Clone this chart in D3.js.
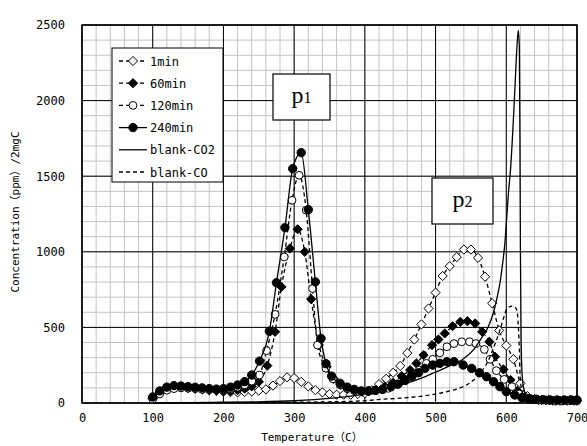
<!DOCTYPE html>
<html>
<head>
<meta charset="utf-8">
<script src="https://cdn.jsdelivr.net/npm/d3@7"></script>
<style>
body { margin: 0; background: #fff; }
text { font-family: 'DejaVu Sans Mono', 'Noto Sans CJK JP', monospace; }
</style>
</head>
<body>
<div id="chart"></div>
<script>

// ---- data ----
var xTicks = [0, 100, 200, 300, 400, 500, 600, 700];
var yTicks = [0, 500, 1000, 1500, 2000, 2500];

var min1 = [[100,30],[110,70],[120,95],[130,105],[140,105],[150,100],[160,95],[170,90],[180,85],[190,80],[200,75],[210,72],[220,70],[230,72],[240,76],[250,82],[260,90],[270,115],[280,145],[290,170],[300,165],[310,140],[320,110],[330,85],[340,70],[350,60],[360,55],[370,55],[380,55],[390,60],[400,65],[410,85],[420,125],[430,160],[440,200],[450,245],[460,330],[470,420],[480,520],[490,625],[500,730],[510,840],[520,905],[530,965],[540,1015],[550,1015],[560,960],[570,835],[580,660],[590,480],[600,380],[610,290],[620,130],[630,45],[640,25],[650,20],[660,20],[670,15],[680,15],[690,20],[700,15]];

var min60 = [[100,30],[110,65],[120,90],[130,105],[140,105],[150,100],[160,95],[170,90],[180,85],[190,82],[200,80],[210,80],[220,85],[230,95],[240,110],[250,140],[262,247],[273,471],[282,768],[294,1022],[305,1149],[315,1000],[324,687],[335,383],[346,240],[356,160],[366,120],[376,95],[386,80],[396,75],[406,78],[416,85],[428,108],[440,134],[452,178],[464,218],[473,262],[483,317],[495,383],[504,420],[513,460],[524,508],[535,537],[545,541],[556,526],[566,471],[576,405],[584,306],[596,222],[606,152],[616,80],[626,40],[636,25],[646,20],[656,18],[666,15],[676,15],[686,15],[696,15]];

var min120 = [[100,25],[110,60],[120,85],[130,95],[140,100],[150,98],[160,95],[170,90],[180,88],[190,88],[200,90],[210,95],[220,105],[230,120],[240,145],[251,185],[261,346],[273,586],[286,966],[297,1341],[307,1506],[317,1275],[326,757],[333,383],[345,230],[355,160],[365,120],[375,95],[385,82],[395,78],[405,78],[415,82],[425,90],[433,97],[445,123],[457,147],[467,174],[477,218],[487,262],[496,289],[506,332],[516,372],[526,393],[537,405],[548,405],[557,393],[569,354],[577,289],[586,214],[597,156],[608,108],[618,60],[628,35],[640,25],[650,20],[660,18],[670,15],[680,15],[690,15],[700,15]];

var min240 = [[100,40],[110,80],[120,105],[130,115],[140,112],[150,108],[160,104],[170,100],[180,95],[190,92],[200,95],[210,105],[220,119],[230,141],[240,185],[251,277],[265,475],[275,795],[287,1160],[298,1550],[310,1656],[320,1279],[330,801],[338,427],[345,260],[353,178],[365,130],[375,105],[385,90],[395,80],[405,80],[415,84],[425,90],[437,108],[447,125],[457,152],[466,178],[476,200],[485,229],[496,251],[506,262],[516,273],[526,273],[539,251],[551,229],[562,200],[572,174],[582,141],[591,108],[600,75],[612,53],[622,35],[632,28],[642,25],[652,22],[662,20],[672,20],[682,20],[692,20],[700,20]];

var blankCO2 = [[100,0],[150,2],[200,5],[250,8],[300,15],[350,30],[400,60],[420,85],[450,120],[480,165],[500,205],[520,245],[540,295],[555,360],[565,430],[575,510],[582,600],[588,720],[591,792],[595,930],[598,1057],[601,1250],[603,1385],[606,1545],[609,1780],[612,2060],[615,2350],[617,2465],[618.5,2350],[619.5,1545],[620,1000],[621,400],[623,150],[627,60],[632,30],[640,15],[660,8],[700,5]];

var blankCO = [[100,0],[200,2],[300,5],[350,8],[400,15],[421,24],[450,32],[492,53],[520,80],[539,108],[552,145],[563,196],[571,250],[577,306],[584,390],[591,482],[596,560],[600,614],[604,635],[608,641],[612,635],[615,614],[617,510],[618.5,350],[619.5,180],[622,80],[624,40],[630,20],[650,10],[700,5]];

var seriesNames = ['1min', '60min', '120min', '240min', 'blank-CO2', 'blank-CO'];

// ---- setup ----
var width = 587, height = 446;
var margin = {top: 25, right: 10, bottom: 43, left: 82};

var svg = d3.select('#chart').append('svg')
    .attr('width', width)
    .attr('height', height);

var x = d3.scaleLinear().domain([0, 700]).range([margin.left, width - margin.right]);
var y = d3.scaleLinear().domain([0, 2500]).range([height - margin.bottom, margin.top]);

// minor grid
var grid = svg.append('g');
grid.selectAll('.vminor').data(d3.range(0, 701, 20))
    .enter().append('line')
    .attr('x1', function (d) { return x(d); }).attr('x2', function (d) { return x(d); })
    .attr('y1', y(0)).attr('y2', y(2500))
    .attr('stroke', '#c4c4c4').attr('stroke-width', 1);
grid.selectAll('.hminor').data(d3.range(0, 2501, 100))
    .enter().append('line')
    .attr('y1', function (d) { return y(d); }).attr('y2', function (d) { return y(d); })
    .attr('x1', x(0)).attr('x2', x(700))
    .attr('stroke', '#c4c4c4').attr('stroke-width', 1);

// major grid
grid.selectAll('.vmajor').data(xTicks)
    .enter().append('line')
    .attr('x1', function (d) { return x(d); }).attr('x2', function (d) { return x(d); })
    .attr('y1', y(0)).attr('y2', y(2500))
    .attr('stroke', '#000').attr('stroke-width', 1);
grid.selectAll('.hmajor').data(yTicks)
    .enter().append('line')
    .attr('y1', function (d) { return y(d); }).attr('y2', function (d) { return y(d); })
    .attr('x1', x(0)).attr('x2', x(700))
    .attr('stroke', '#000').attr('stroke-width', 1);

// axes (labels only, frame drawn below)
var xAxis = svg.append('g')
    .attr('transform', 'translate(0,' + y(0) + ')')
    .call(d3.axisBottom(x).tickValues(xTicks).tickFormat(d3.format('d')).tickSize(0).tickPadding(10));
var yAxis = svg.append('g')
    .attr('transform', 'translate(' + x(0) + ',0)')
    .call(d3.axisLeft(y).tickValues(yTicks).tickFormat(d3.format('d')).tickSize(0).tickPadding(17));
[xAxis, yAxis].forEach(function (a) {
    a.select('.domain').remove();
    a.selectAll('text').attr('font-size', 12).attr('fill', '#000')
        .style('font-family', "'DejaVu Sans Mono', monospace");
});

// frame
svg.append('rect')
    .attr('x', x(0)).attr('y', y(2500))
    .attr('width', x(700) - x(0)).attr('height', y(0) - y(2500))
    .attr('fill', 'none').attr('stroke', '#000').attr('stroke-width', 1.5);

// axis titles
svg.append('text')
    .attr('x', 312).attr('y', 441)
    .attr('text-anchor', 'middle').attr('font-size', 11)
    .text('Temperature（C）');
svg.append('text')
    .attr('transform', 'translate(19,' + 212 + ') rotate(-90)')
    .attr('text-anchor', 'middle').attr('font-size', 11)
    .text('Concentration（ppm）/2mgC');

// ---- series ----
function diamond(r) {
    return 'M0,' + (-r) + 'L' + r + ',0L0,' + r + 'L' + (-r) + ',0Z';
}

var styles = [
    {data: min1, dash: '4,3', marker: 'diamond', fill: '#fff'},
    {data: min60, dash: '4,3', marker: 'diamond', fill: '#000'},
    {data: min120, dash: '4,3', marker: 'circle', fill: '#fff'},
    {data: min240, dash: null, marker: 'circle', fill: '#000'},
    {data: blankCO2, dash: null, marker: null},
    {data: blankCO, dash: '4,3', marker: null}
];

var line = d3.line()
    .x(function (d) { return x(d[0]); })
    .y(function (d) { return y(d[1]); })
    .curve(d3.curveMonotoneX);

var plot = svg.append('g');

function drawMarker(g, s) {
    if (s.marker === 'diamond') {
        g.append('path').attr('d', diamond(4.6))
            .attr('fill', s.fill).attr('stroke', '#000').attr('stroke-width', 1);
    } else if (s.marker === 'circle') {
        g.append('circle').attr('r', s.fill === '#000' ? 4.2 : 3.9)
            .attr('fill', s.fill).attr('stroke', '#000').attr('stroke-width', 1);
    }
}

styles.forEach(function (s) {
    plot.append('path')
        .datum(s.data)
        .attr('d', line)
        .attr('fill', 'none')
        .attr('stroke', '#000')
        .attr('stroke-width', 1.3)
        .attr('stroke-dasharray', s.dash);
    if (s.marker) {
        s.data.forEach(function (d) {
            var g = plot.append('g').attr('transform', 'translate(' + x(d[0]) + ',' + y(d[1]) + ')');
            drawMarker(g, s);
        });
    }
});

// ---- legend ----
var legend = svg.append('g');
legend.append('rect')
    .attr('x', 112).attr('y', 48).attr('width', 111).attr('height', 134)
    .attr('fill', '#fff').attr('stroke', '#000').attr('stroke-width', 1);

seriesNames.forEach(function (name, i) {
    var s = styles[i];
    var ly = 61 + i * 22.2;
    legend.append('line')
        .attr('x1', 119).attr('x2', 147).attr('y1', ly).attr('y2', ly)
        .attr('stroke', '#000').attr('stroke-width', 1.3)
        .attr('stroke-dasharray', s.dash);
    if (s.marker) {
        var g = legend.append('g').attr('transform', 'translate(133,' + ly + ')');
        drawMarker(g, s);
    }
    legend.append('text')
        .attr('x', 150).attr('y', ly + 4.5)
        .attr('font-size', 12)
        .text(name);
});

// ---- peak labels ----
var peaks = [
    {label: 'p', sub: '1', x0: 273, y0: 74, w: 57, h: 46},
    {label: 'p', sub: '2', x0: 432, y0: 178, w: 61, h: 46}
];
peaks.forEach(function (p) {
    svg.append('rect')
        .attr('x', p.x0).attr('y', p.y0).attr('width', p.w).attr('height', p.h)
        .attr('fill', '#fff').attr('stroke', '#000').attr('stroke-width', 1.2);
    var t = svg.append('text')
        .attr('x', p.x0 + p.w / 2).attr('y', p.y0 + p.h / 2 + 6)
        .attr('text-anchor', 'middle')
        .style('font-family', "'Liberation Serif', serif")
        .attr('font-size', 24);
    t.append('tspan').text(p.label);
    t.append('tspan').attr('font-size', 16).text(p.sub);
});

</script>
</body>
</html>
